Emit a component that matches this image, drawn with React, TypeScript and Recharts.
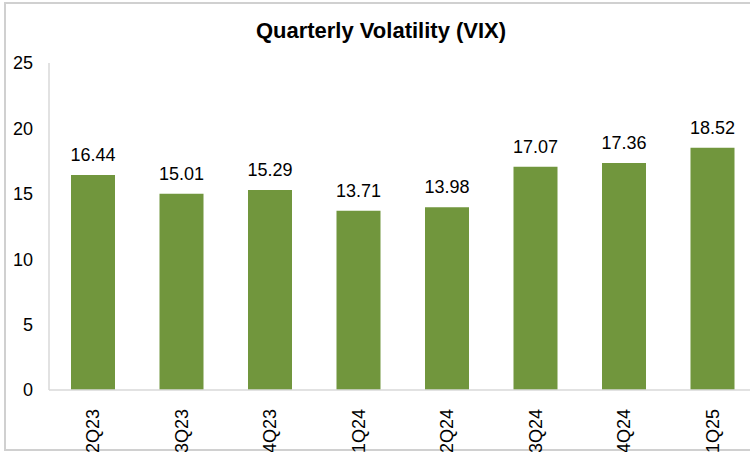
import React from "react";
import { BarChart, Bar, XAxis, YAxis, LabelList } from "recharts";

const quarters = ["2Q23", "3Q23", "4Q23", "1Q24", "2Q24", "3Q24", "4Q24", "1Q25"];
const vixValues = [16.44, 15.01, 15.29, 13.71, 13.98, 17.07, 17.36, 18.52];
const yTicks = [0, 5, 10, 15, 20, 25];

const chartData = quarters.map((q, i) => ({ quarter: q, vix: vixValues[i] }));

const FONT = '"Liberation Sans", Arial, sans-serif';

function QuarterTick(props: any) {
  const { x, y, payload } = props;
  return (
    <text
      x={x}
      y={y + 11}
      transform={`rotate(-90, ${x}, ${y + 11})`}
      textAnchor="end"
      dominantBaseline="central"
      fontFamily={FONT}
      fontSize={18}
      fill="#000"
    >
      {payload.value}
    </text>
  );
}

export default function App() {
  return (
    <div
      style={{
        position: "absolute",
        left: 0,
        top: 0,
        width: 750,
        height: 452,
        overflow: "hidden",
        background: "#fff",
      }}
    >
      <div
        style={{
          position: "absolute",
          left: 4,
          top: 2,
          width: 800,
          height: 445,
          border: "2px solid #d0d0d0",
        }}
      />
      <div
        style={{
          position: "absolute",
          left: 381,
          top: 20,
          transform: "translateX(-50%)",
          whiteSpace: "nowrap",
          fontFamily: FONT,
          fontWeight: "bold",
          fontSize: 22,
          lineHeight: "22px",
          color: "#000",
        }}
      >
        Quarterly Volatility (VIX)
      </div>
      <div style={{ position: "absolute", left: 0, top: 0 }}>
        <BarChart
          width={757}
          height={452}
          data={chartData}
          margin={{ top: 63, right: 0, bottom: 0, left: 0 }}
          barCategoryGap="25%"
        >
          <XAxis
            dataKey="quarter"
            height={62}
            tickLine={false}
            axisLine={{ stroke: "#d9d9d9", strokeWidth: 1.5 }}
            tick={<QuarterTick />}
            interval={0}
          />
          <YAxis
            width={49}
            domain={[0, 25]}
            ticks={yTicks}
            tickLine={false}
            tickSize={0}
            tickMargin={16}
            axisLine={{ stroke: "#d9d9d9", strokeWidth: 1.5 }}
            tick={{ fontFamily: FONT, fontSize: 18, fill: "#000" }}
          />
          <Bar dataKey="vix" fill="#71963d" barSize={44} isAnimationActive={false}>
            <LabelList
              dataKey="vix"
              position="top"
              offset={14}
              formatter={(v: any) => Number(v).toFixed(2)}
              style={{ fontFamily: FONT, fontSize: 18, fill: "#000" }}
            />
          </Bar>
        </BarChart>
      </div>
    </div>
  );
}
